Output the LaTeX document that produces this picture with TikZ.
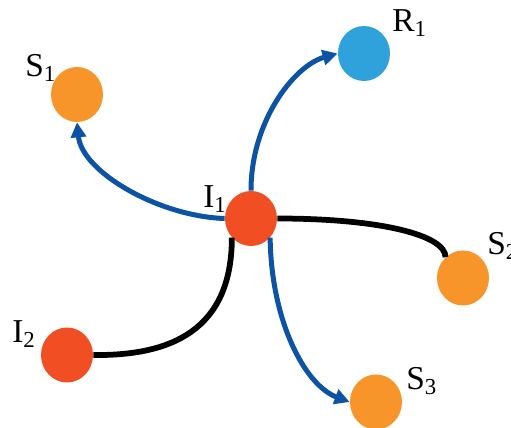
\documentclass[tikz,border=0pt]{standalone}
\usepackage{fontspec}
\setmainfont{Liberation Serif}
\usetikzlibrary{arrows.meta,shapes.geometric}
\definecolor{cblue}{HTML}{2FA2DB}
\definecolor{corange}{HTML}{F7952B}
\definecolor{cred}{HTML}{F14E24}
\definecolor{carrow}{HTML}{0C52A5}
\newcommand{\lbl}[2]{#1\raisebox{-2.8pt}{\fontsize{13}{13}\selectfont #2}}
\begin{document}
\begin{tikzpicture}[x=0.2mm,y=-0.2mm,
  agent/.style={ellipse, minimum width=10.4mm, minimum height=11mm, inner sep=0pt, draw=none},
  lab/.style={anchor=base west, inner sep=0pt, font=\fontsize{19}{22}\selectfont},
  flow/.style={draw=carrow, line width=1mm, -{Triangle[length=3mm,width=3mm]}},
  tie/.style={draw=black, line width=1.15mm}]
\useasboundingbox (0,0) rectangle (511,428);
\node[agent, fill=cblue]   (R1) at (364,53.5) {};
\node[agent, fill=corange] (S1) at (77,94.5) {};
\node[agent, fill=cred]    (I1) at (251,218.5) {};
\node[agent, fill=corange] (S2) at (463,278) {};
\node[agent, fill=cred]    (I2) at (67,355) {};
\node[agent, fill=corange] (S3) at (376,402) {};
\node[lab] (lR1) at (392,32) {\lbl{R}{1}};
\node[lab] (lS1) at (25,77) {\lbl{S}{1}};
\node[lab] (lI1) at (203,208) {\lbl{I}{1}};
\node[lab] (lS2) at (487,255) {\lbl{S}{2}};
\node[lab] (lI2) at (12,343) {\lbl{I}{2}};
\node[lab] (lS3) at (406,390) {\lbl{S}{3}};
\draw[flow] (I1.north) .. controls +(0,-70) and +(-43,12) .. (R1.west);
\draw[flow] (I1.west) .. controls +(-65,-2) and +(5,50) .. (S1.south);
\draw[flow] (I1.-45) .. controls +(1,83) and +(-45,-17) .. (S3.west);
\draw[tie] (I1.-135) .. controls +(0,93) and +(77,1) .. (I2.east);
\draw[tie] (I1.east) .. controls +(103,0) and +(0,-22) .. (S2.130);
\end{tikzpicture}
\end{document}
